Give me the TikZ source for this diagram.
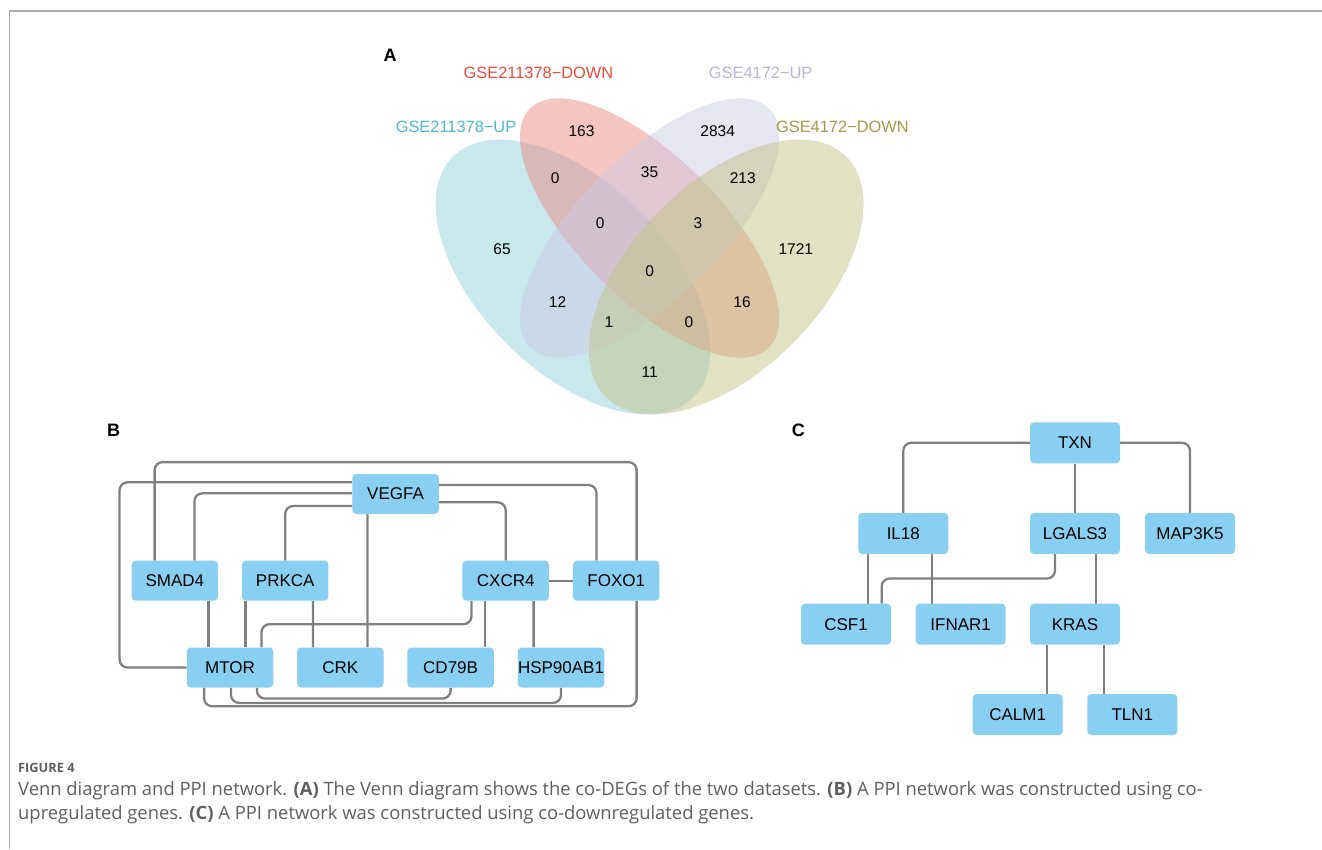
\documentclass[tikz,border=0pt]{standalone}
\usepackage{fontspec}
\usetikzlibrary{backgrounds}
\setmainfont{Liberation Sans}
\newfontfamily\capfont{Open Sans}
\definecolor{cyanF}{RGB}{145,209,221}
\definecolor{redF}{RGB}{235,139,129}
\definecolor{lavF}{RGB}{205,203,229}
\definecolor{oliveF}{RGB}{195,195,135}
\definecolor{cyanT}{RGB}{75,185,210}
\definecolor{redT}{RGB}{235,75,60}
\definecolor{lavT}{RGB}{185,180,215}
\definecolor{oliveT}{RGB}{160,155,70}
\definecolor{nodeblue}{RGB}{137,207,242}
\definecolor{edgegray}{RGB}{128,128,128}
\definecolor{framegray}{RGB}{170,170,170}
\definecolor{captext}{RGB}{95,95,95}
\tikzset{
  gene/.style={fill=nodeblue, rounded corners=4pt, minimum width=86.5pt, minimum height=40pt, inner sep=0pt, font=\fontsize{17}{20}\selectfont},
  geneC/.style={gene, minimum width=90pt, minimum height=41pt},
  link/.style={draw=edgegray, line width=2.3pt, rounded corners=8pt},
  vnum/.style={font=\fontsize{15.5}{18}\selectfont, text=black, inner sep=0pt},
  vlab/.style={font=\fontsize{16.4}{18}\selectfont, inner sep=0pt},
  panel/.style={font=\fontsize{18}{20}\selectfont\bfseries, inner sep=0pt},
  caption/.style={font=\capfont\fontsize{18.4}{22}\selectfont, text=captext, anchor=west, inner sep=0pt}
}
\begin{document}
\begin{tikzpicture}[x=1pt,y=-1pt]
\useasboundingbox (0,0) rectangle (1322,849);
% frame
\draw[framegray, line width=1.3pt] (1322,11) -- (9.5,11) -- (9.5,849);
% ---------- Panel A: Venn ----------
\node[panel] (A) at (390,55) {A};
\fill[cyanF, opacity=.5, rotate around={-45:(573,277)}] (573,277) ellipse [x radius=170pt, y radius=94pt];
\fill[redF, opacity=.5, rotate around={-45:(649.6,228)}] (649.6,228) ellipse [x radius=169pt, y radius=71pt];
\fill[lavF, opacity=.5, rotate around={45:(649.6,228)}] (649.6,228) ellipse [x radius=169pt, y radius=71pt];
\fill[oliveF, opacity=.5, rotate around={45:(726.2,277)}] (726.2,277) ellipse [x radius=170pt, y radius=94pt];
\node[vlab, text=redT] (l1) at (538.5,73.3) {GSE211378\textminus DOWN};
\node[vlab, text=lavT] (l2) at (760.7,73.3) {GSE4172\textminus UP};
\node[vlab, text=cyanT] (l3) at (456,126.7) {GSE211378\textminus UP};
\node[vlab, text=oliveT] (l4) at (842.4,126.7) {GSE4172\textminus DOWN};
\node[vnum] (n1) at (581.5,130.7) {163};
\node[vnum] (n2) at (717.7,130.7) {2834};
\node[vnum] (n3) at (555.3,177.7) {0};
\node[vnum] (n4) at (649.6,171.7) {35};
\node[vnum] (n5) at (742.8,177.7) {213};
\node[vnum] (n6) at (600.1,223.3) {0};
\node[vnum] (n7) at (698,223.3) {3};
\node[vnum] (n8) at (502,249) {65};
\node[vnum] (n9) at (795.8,249) {1721};
\node[vnum] (n10) at (649.6,270.7) {0};
\node[vnum] (n11) at (557.5,302.3) {12};
\node[vnum] (n12) at (742,302.3) {16};
\node[vnum] (n13) at (609,321.7) {1};
\node[vnum] (n14) at (689,321.7) {0};
\node[vnum] (n15) at (649.6,371.7) {11};
% ---------- Panel B ----------
\node[panel] (B) at (113.6,430.7) {B};
\node[gene] (VEGFA) at (395.5,494) {VEGFA};
\node[gene] (SMAD4) at (174.9,580.7) {SMAD4};
\node[gene] (PRKCA) at (285.2,580.7) {PRKCA};
\node[gene] (CXCR4) at (505.7,580.7) {CXCR4};
\node[gene] (FOXO1) at (616.2,580.7) {FOXO1};
\node[gene] (MTOR) at (230,667.5) {MTOR};
\node[gene] (CRK) at (340.3,667.5) {CRK};
\node[gene] (CD79B) at (450.6,667.5) {CD79B};
\node[gene] (HSP) at (561,667.5) {HSP90AB1};
\begin{scope}[on background layer]
\draw[link] ([xshift=-20.3pt]SMAD4.north) -- ++(0,-98.4) -| ([xshift=20.4pt]FOXO1.north);
\draw[link] ([yshift=11.7pt]VEGFA.west) -| ([xshift=-67pt]MTOR.west) -- (MTOR.west);
\draw[link] ([yshift=0.7pt]VEGFA.west) -| ([xshift=19.5pt]SMAD4.north);
\draw[link] ([yshift=-12pt]VEGFA.west) -| (PRKCA.north);
\draw[link] ([xshift=-28.1pt]VEGFA.south) -- ([xshift=27.1pt]CRK.north);
\draw[link] ([yshift=9pt]VEGFA.east) -| ([xshift=-19.8pt]FOXO1.north);
\draw[link] ([yshift=-8.3pt]VEGFA.east) -| (CXCR4.north);
\draw[link] (CXCR4.east) -- (FOXO1.west);
\draw[link] ([xshift=33.5pt]SMAD4.south) -- ([xshift=-21.6pt]MTOR.north);
\draw[link] ([xshift=-39.8pt]PRKCA.south) -- ([xshift=15.4pt]MTOR.north);
\draw[link] ([xshift=27.7pt]PRKCA.south) -- ([xshift=-27.4pt]CRK.north);
\draw[link] ([xshift=-34.2pt]CXCR4.south) -- ++(0,23.3) -| ([xshift=31.5pt]MTOR.north);
\draw[link] ([xshift=-20.9pt]CXCR4.south) -- ([xshift=34.2pt]CD79B.north);
\draw[link] ([xshift=27.9pt]CXCR4.south) -- ([xshift=-27.4pt]HSP.north);
\draw[link] ([xshift=20.4pt]FOXO1.south) -- ++(0,105.3) -| ([xshift=-25.9pt]MTOR.south);
\draw[link] ([xshift=1pt]MTOR.south) -- ++(0,15.2) -| (HSP.south);
\draw[link] ([xshift=26.9pt]MTOR.south) -- ++(0,10.8) -| (CD79B.south);
\end{scope}
% ---------- Panel C ----------
\node[panel] (C) at (798.3,430.7) {C};
\node[geneC] (TXN) at (1075,442.8) {TXN};
\node[geneC] (IL18) at (903.3,533.5) {IL18};
\node[geneC] (LGALS3) at (1075,533.5) {LGALS3};
\node[geneC] (MAP3K5) at (1190,533.5) {MAP3K5};
\node[geneC] (CSF1) at (846,624.2) {CSF1};
\node[geneC] (IFNAR1) at (960.7,624.2) {IFNAR1};
\node[geneC] (KRAS) at (1075,624.2) {KRAS};
\node[geneC] (CALM1) at (1017.7,714.5) {CALM1};
\node[geneC] (TLN1) at (1132.3,714.5) {TLN1};
\begin{scope}[on background layer]
\draw[link] (TXN.west) -| (IL18.north);
\draw[link] (TXN.south) -- (LGALS3.north);
\draw[link] (TXN.east) -| (MAP3K5.north);
\draw[link] ([xshift=-35pt]IL18.south) -- ([xshift=22.3pt]CSF1.north);
\draw[link] ([xshift=28.4pt]IL18.south) -- ([xshift=-29pt]IFNAR1.north);
\draw[link] ([xshift=-20pt]LGALS3.south) -- ++(0,24.3) -| ([xshift=35.7pt]CSF1.north);
\draw[link] ([xshift=21pt]LGALS3.south) -- ([xshift=21pt]KRAS.north);
\draw[link] ([xshift=-28.3pt]KRAS.south) -- ([xshift=29pt]CALM1.north);
\draw[link] ([xshift=29pt]KRAS.south) -- ([xshift=-28.3pt]TLN1.north);
\end{scope}
% ---------- Caption ----------
\node[caption, font=\capfont\bfseries\fontsize{12.8}{15}\selectfont] (fig) at (18,768) {FIGURE 4};
\node[caption] (cap1) at (18,791) {Venn diagram and PPI network. \textbf{(A)} The Venn diagram shows the co-DEGs of the two datasets. \textbf{(B)} A PPI network was constructed using co-};
\node[caption] (cap2) at (18,815) {upregulated genes. \textbf{(C)} A PPI network was constructed using co-downregulated genes.};
\end{tikzpicture}
\end{document}
